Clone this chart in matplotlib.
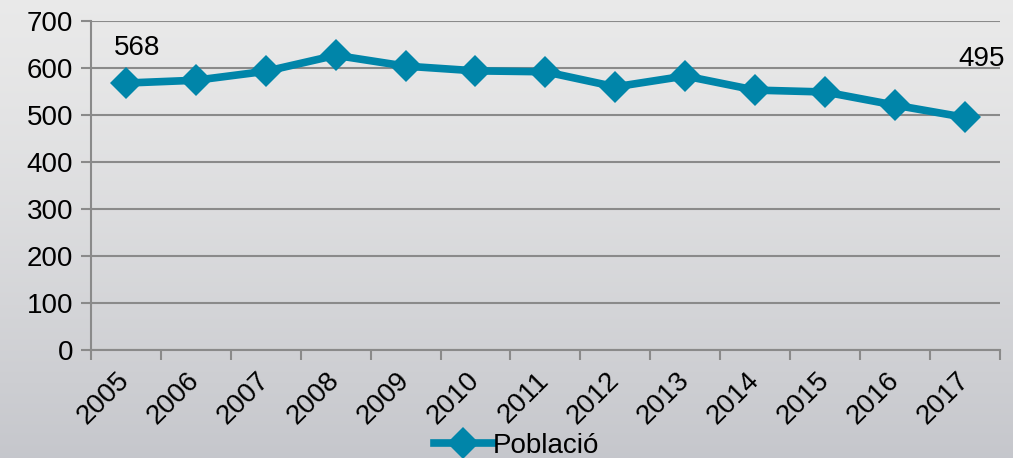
import numpy as np
import matplotlib
matplotlib.use("Agg")
import matplotlib.pyplot as plt
from matplotlib.lines import Line2D

plt.rcParams["font.family"] = ["Liberation Sans", "DejaVu Sans"]

# --- data ---
anys = ["2005", "2006", "2007", "2008", "2009", "2010", "2011",
        "2012", "2013", "2014", "2015", "2016", "2017"]
poblacio = [568, 574, 593, 627, 604, 594, 592, 560, 583, 553, 549, 521, 495]
y_ticks = [0, 100, 200, 300, 400, 500, 600, 700]

LINE_COLOR = "#0085a9"
GRID_COLOR = "#8a8a8a"
FS = 20

fig = plt.figure(figsize=(10.13, 4.58), dpi=100)

# background gradient (light on top, darker grey at bottom)
bg = fig.add_axes([0, 0, 1, 1], zorder=-10)
grad = np.linspace(0, 1, 256).reshape(-1, 1)
top = np.array([0.915, 0.915, 0.915])
bottom = np.array([0.775, 0.78, 0.80])
img = top + (bottom - top) * grad[..., None] ** 1.3
bg.imshow(img, aspect="auto", extent=[0, 1, 0, 1], origin="upper")
bg.axis("off")

ax = fig.add_axes([0.0898, 0.2358, 0.8972, 0.7183])
ax.patch.set_alpha(0)

x = np.arange(len(anys))
ax.plot(x, poblacio, color=LINE_COLOR, lw=5.5, marker="D", ms=16,
        markeredgewidth=0, zorder=3, clip_on=False)

ax.set_xlim(-0.5, len(anys) - 0.5)
ax.set_ylim(0, 700)
ax.set_yticks(y_ticks)
ax.set_xticks(np.arange(-0.5, len(anys), 1.0))
ax.set_xticklabels([])
ax.set_xticks(x, minor=True)
ax.set_xticklabels(anys, minor=True, rotation=45, ha="right", va="center",
                   rotation_mode="anchor", fontsize=FS)
ax.tick_params(axis="x", which="minor", length=0, pad=19)
ax.tick_params(axis="x", which="major", length=7, width=1.5, color=GRID_COLOR)
ax.tick_params(axis="y", length=7, width=1.5, color=GRID_COLOR,
               labelsize=FS, pad=6)

ax.grid(axis="y", color=GRID_COLOR, lw=1.5)
ax.set_axisbelow(True)
for s in ["top", "right"]:
    ax.spines[s].set_visible(False)
for s in ["left", "bottom"]:
    ax.spines[s].set_color(GRID_COLOR)
    ax.spines[s].set_linewidth(1.5)

# data labels for first and last point
ax.annotate(str(poblacio[0]), (x[0], poblacio[0]), xytext=(8, 16),
            textcoords="offset points", ha="center", va="bottom", fontsize=FS)
ax.annotate(str(poblacio[-1]), (x[-1], poblacio[-1]), xytext=(12, 33),
            textcoords="offset points", ha="center", va="bottom", fontsize=FS,
            annotation_clip=False)

handle = Line2D([], [], color=LINE_COLOR, lw=5.5, marker="D", ms=16,
                markeredgewidth=0)
fig.legend([handle], ["Població"], loc="center", bbox_to_anchor=(0.51, 0.026),
           frameon=False, fontsize=FS, handlelength=2.1, handletextpad=0,
           borderpad=0)

fig.savefig("out.png", dpi=100)
